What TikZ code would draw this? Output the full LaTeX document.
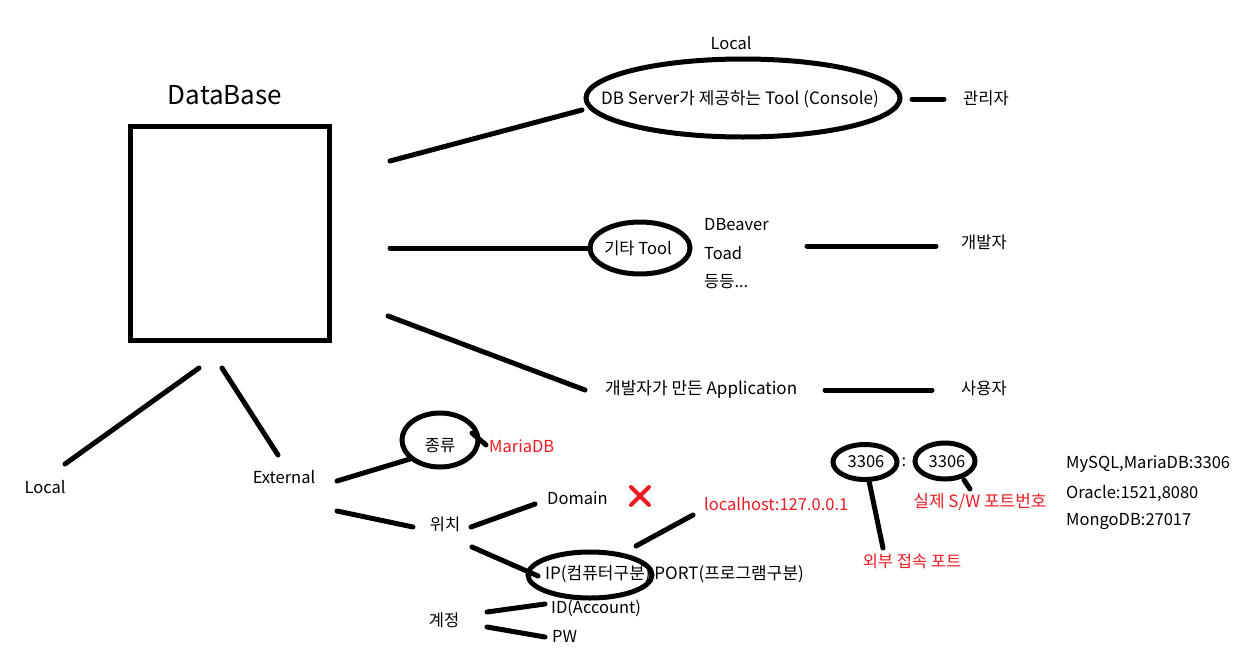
\documentclass[tikz,border=0pt]{standalone}
\usepackage{fontspec}
\setmainfont{Noto Sans CJK KR}
\usetikzlibrary{shapes.geometric}
\definecolor{pred}{RGB}{237,28,36}
\tikzset{
 txt/.style={inner sep=0pt, font=\fontsize{16.5}{19}\selectfont},
 rtxt/.style={txt, text=pred},
 ln/.style={line width=5pt, line cap=round},
 oval/.style={ellipse, draw, line width=5pt, inner sep=0pt},
}
\begin{document}
\begin{tikzpicture}[x=1pt,y=-1pt]
\useasboundingbox[fill=white] (0,0) rectangle (1248,648);
% DataBase box
\node[txt, font=\fontsize{26}{30}\selectfont] (db) at (225,95) {DataBase};
\node[draw, line width=5pt, minimum width=199pt, minimum height=214pt, inner sep=0pt] (box) at (229.5,233) {};
% top branch
\node[oval, minimum width=314pt, minimum height=78pt] (e1) at (743,98) {};
\node[txt, font=\fontsize{17}{19}\selectfont, anchor=west] (t1) at (601,99) {DB Server가 제공하는 Tool (Console)};
\node[txt] (loc1) at (731,43) {Local};
\node[txt] (admin) at (986,98) {관리자};
\coordinate (a1) at (390,161); \coordinate (a2) at (582,110);
\draw[ln] (a1) -- (a2);
\coordinate (b1) at (912,99); \coordinate (b2) at (944,99);
\draw[ln] (b1) -- (b2);
% middle branch
\node[oval, minimum width=100pt, minimum height=52pt] (e2) at (640,248) {};
\node[txt] (t2) at (638,248) {기타 Tool};
\coordinate (c1) at (390,248); \coordinate (c2) at (590,248);
\draw[ln] (c1) -- (c2);
\node[txt, anchor=west] (dbv) at (704,225) {DBeaver};
\node[txt, anchor=west] (toad) at (704,253) {Toad};
\node[txt, anchor=west] (etc) at (704,282) {등등...};
\coordinate (d1) at (807,246); \coordinate (d2) at (936,246);
\draw[ln] (d1) -- (d2);
\node[txt] (dev) at (984,242) {개발자};
% bottom branch
\coordinate (f1) at (388,316); \coordinate (f2) at (585,390);
\draw[ln] (f1) -- (f2);
\node[txt, anchor=west, font=\fontsize{17}{19}\selectfont] (app) at (605,389) {개발자가 만든 Application};
\coordinate (g1) at (825,390); \coordinate (g2) at (932,390);
\draw[ln] (g1) -- (g2);
\node[txt] (user) at (984,388) {사용자};
% Local / External
\coordinate (h0) at (199,368); \coordinate (h1) at (65,464);
\draw[ln] (h0) -- (h1);
\coordinate (i0) at (222,368); \coordinate (i1) at (278,455);
\draw[ln] (i0) -- (i1);
\node[txt] (loc2) at (45,487) {Local};
\node[txt] (ext) at (284,477) {External};
% 종류
\node[oval, minimum width=76pt, minimum height=54pt] (e3) at (440,440) {};
\node[txt] (kind) at (440,446) {종류};
\coordinate (j1) at (472,433); \coordinate (j2) at (486,445);
\draw[ln] (j1) -- (j2);
\node[rtxt, anchor=west] (maria) at (489,446) {MariaDB};
\coordinate (k1) at (337,481); \coordinate (k2) at (410,459);
\draw[ln] (k1) -- (k2);
% 위치
\coordinate (l1) at (337,511); \coordinate (l2) at (413,527);
\draw[ln] (l1) -- (l2);
\node[txt] (pos) at (445,524) {위치};
\coordinate (m1) at (471,527); \coordinate (m2) at (535,504);
\draw[ln] (m1) -- (m2);
\node[txt, anchor=west] (dom) at (547,498) {Domain};
\draw[pred, line width=4pt, line cap=round] (631,487) -- (649,505) (649,487) -- (631,505);
\coordinate (n1) at (472,547); \coordinate (n2) at (538,576);
\draw[ln] (n1) -- (n2);
\node[txt, anchor=west, font=\fontsize{17}{19}\selectfont] (ip) at (545,574) {IP(컴퓨터구분) PORT(프로그램구분)};
\node[oval, minimum width=124pt, minimum height=46pt] (e4) at (590,575) {};
\coordinate (o1) at (636,546); \coordinate (o2) at (693,515);
\draw[ln] (o1) -- (o2);
\node[rtxt, anchor=west] (lh) at (704,504) {localhost:127.0.0.1};
% 계정
\node[txt] (acc) at (444,620) {계정};
\coordinate (p1) at (487,612); \coordinate (p2) at (545,604);
\draw[ln] (p1) -- (p2);
\coordinate (q1) at (487,627); \coordinate (q2) at (545,637);
\draw[ln] (q1) -- (q2);
\node[txt, anchor=west] (id) at (551,608) {ID(Account)};
\node[txt, anchor=west] (pw) at (552,636) {PW};
% ports
\node[oval, minimum width=64pt, minimum height=35pt] (e5) at (865,462) {};
\node[txt] (p3306a) at (866,462) {3306};
\node[txt] (colon) at (904,462) {:};
\node[oval, minimum width=60pt, minimum height=36pt] (e6) at (945,461) {};
\node[txt] (p3306b) at (947,462) {3306};
\coordinate (r1) at (964,480); \coordinate (r2) at (970,489);
\draw[ln] (r1) -- (r2);
\coordinate (s1) at (869,481); \coordinate (s2) at (883,548);
\draw[ln] (s1) -- (s2);
\node[rtxt] (ext2) at (912,561) {외부 접속 포트};
\node[rtxt, font=\fontsize{17}{19}\selectfont] (real) at (980,502) {실제 S/W 포트번호};
\node[txt, anchor=west] (my) at (1066,464) {MySQL,MariaDB:3306};
\node[txt, anchor=west] (ora) at (1066,493) {Oracle:1521,8080};
\node[txt, anchor=west] (mongo) at (1066,522) {MongoDB:27017};
\end{tikzpicture}
\end{document}
